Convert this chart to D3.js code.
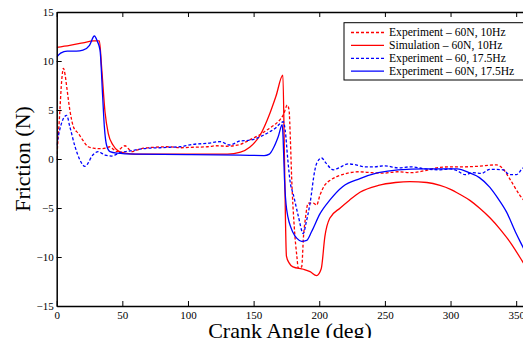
<!DOCTYPE html>
<html>
<head>
<meta charset="utf-8">
<script src="https://cdn.jsdelivr.net/npm/d3@7"></script>
<style>
  body { margin: 0; background: #fff; }
  svg { display: block; font-family: "Liberation Serif", "Times New Roman", serif; }
</style>
</head>
<body>
<div id="chart"></div>
<script>
// crank angle (deg) vs friction (N)
const expSlow = [[0,0],[2,4],[4,8.3],[5.1,9.25],[6.5,8.5],[7.6,7.4],[10,5],[12.7,3.3],[16.5,2.6],[20,1.9],[24,1.25],[28,1.1],[33,1.05],[37,1.1],[40.6,1.25],[43,1.0],[45.7,0.75],[49,1.1],[52,1.35],[55,1.0],[57,0.75],[61,0.9],[66,1.1],[75,1.2],[84,1.25],[95,1.15],[104,1.2],[115,1.25],[122,1.35],[129.5,1.3],[140,1.5],[147,1.95],[155,2.5],[160,2.95],[166,3.5],[170,4.0],[173,4.6],[175.6,5.5],[177,5],[178,2],[179,-2],[181,-7],[183,-10],[184,-11.15],[186.6,-11],[188,-7.9],[189.5,-6],[191.6,-4.5],[195.4,-4.5],[198,-4.7],[200.5,-3.7],[204.3,-2.65],[208,-2.2],[213.3,-1.8],[221,-1.46],[230,-1.3],[240,-1.4],[248,-1.45],[260,-1.3],[270,-1.4],[280,-1.2],[292,-0.85],[300,-0.8],[310,-0.8],[320,-0.75],[335,-0.6],[340,-1.0],[345,-2.0],[352.8,-3.7],[360,-4.8]];

const simSlow = [[0,11.4],[10,11.6],[20,11.85],[28,12.05],[32.5,12.05],[34.3,9.2],[36.8,4.8],[39.3,2.6],[43,1.4],[47,0.8],[52,0.6],[60,0.5],[100,0.5],[130,0.5],[140,0.7],[147,1.2],[155,2.45],[162.5,4.7],[167,6.4],[172.3,8.55],[173.5,0],[175,-9.9],[177,-10.6],[180,-11],[188,-11.25],[193,-11.5],[198,-11.9],[201.5,-11.2],[204.3,-7.9],[208,-6.05],[216,-5.0],[223,-4.2],[231,-3.4],[245,-2.7],[258,-2.4],[269,-2.3],[282,-2.4],[292,-2.7],[300,-3.1],[307,-3.6],[315,-4.25],[322,-5.0],[330,-6.0],[338,-7.2],[346,-8.6],[355,-10.5],[360,-11.6]];

const expFastDash = [[0,1.4],[2,2.8],[5,4.1],[7.6,4.45],[10,3.3],[14,1.25],[17.7,-0.1],[21.5,-0.75],[24,-0.4],[26.6,0.25],[29,0.6],[31.7,0.75],[34,0.6],[36.8,0.4],[41.9,0.3],[45,0.45],[48,0.65],[55,0.8],[63.4,1.0],[70,1.1],[78.7,1.15],[86,1.2],[94,1.25],[104,1.5],[115,1.6],[124.4,1.77],[132,1.43],[139.6,1.84],[146,1.9],[152,2.1],[157,2.4],[162.5,2.8],[167,3.2],[170,3.6],[172.6,3.8],[174,3.0],[176,0],[178,-2.5],[180,-3.5],[184,-5.8],[187.8,-7.6],[190,-6.5],[193,-4.5],[196.7,-1.1],[198,-0.45],[201.8,0.1],[205,-0.4],[210.7,-1.1],[215,-0.9],[222,-0.5],[228,-0.6],[235,-0.8],[241,-0.8],[250,-0.7],[260,-0.9],[270,-0.8],[280,-1.0],[292,-1.1],[300,-1.0],[305,-1.2],[311,-1.6],[317,-1.4],[323.7,-1.46],[330,-1.05],[340,-1.1],[345,-1.6],[350,-1.6],[355,-0.95],[360,-0.7]];

const expFast = [[0,10.4],[3,10.8],[8,11],[15,11],[20,11.1],[25,11.6],[28.7,12.55],[31,12],[33,11.1],[35,6.4],[36.3,3.3],[38,1.4],[40.6,0.75],[45.7,0.6],[60,0.5],[100,0.45],[140,0.4],[158,0.35],[162,0.5],[165,1.1],[168.8,2.3],[171.8,3.5],[172.5,2],[173.5,-2],[175.2,-5.2],[180,-7.5],[183,-8.1],[186.6,-8.4],[190.4,-8.3],[194.2,-7.4],[200.5,-5.6],[208,-4.2],[218,-2.8],[231,-2.0],[245,-1.4],[260,-1.1],[280,-1.0],[305,-1.0],[315,-1.45],[322,-1.9],[330,-2.9],[336,-4.0],[342.6,-5.4],[350,-7.6],[355,-8.95],[360,-10.3]];

const seriesNames = ['Experiment \u2013 60N, 10Hz', 'Simulation \u2013 60N, 10Hz', 'Experiment \u2013 60, 17.5Hz', 'Experiment \u2013 60N, 17.5Hz'];
const seriesData = [expSlow, simSlow, expFastDash, expFast];
const seriesColor = ['#ff0000', '#ff0000', '#0000ff', '#0000ff'];
const seriesDash = ['3,2', null, '3,2', null];

const xTicks = [0, 50, 100, 150, 200, 250, 300, 350];
const yTicks = [-15, -10, -5, 0, 5, 10, 15];

const width = 523, height = 338;
const margin = { top: 12, right: -6.3, bottom: 32, left: 56.7 };

const svg = d3.select('#chart').append('svg')
  .attr('width', width)
  .attr('height', height);

const x = d3.scaleLinear()
  .domain([0, 360])
  .range([margin.left, width - margin.right]);

const y = d3.scaleLinear()
  .domain([-15, 15])
  .range([height - margin.bottom, margin.top]);

svg.append('defs').append('clipPath').attr('id', 'plot')
  .append('rect')
  .attr('x', x(0)).attr('y', y(15))
  .attr('width', x(360) - x(0)).attr('height', y(-15) - y(15));

const line = d3.line()
  .x(d => x(d[0]))
  .y(d => y(d[1]))
  .curve(d3.curveMonotoneX);

const lines = svg.append('g').attr('clip-path', 'url(#plot)');
seriesData.forEach((s, i) => {
  lines.append('path')
    .datum(s)
    .attr('fill', 'none')
    .attr('stroke', seriesColor[i])
    .attr('stroke-width', 1.3)
    .attr('stroke-dasharray', seriesDash[i])
    .attr('d', line);
});

// axes, matlab style: ticks inward, box all round
const styleAxis = g => {
  g.selectAll('.domain').attr('stroke', '#000').attr('stroke-width', 1.5);
  g.selectAll('.tick line').attr('stroke', '#000').attr('stroke-width', 1);
  g.selectAll('.tick text').attr('font-size', 11).attr('fill', '#000')
    .attr('font-family', '"Liberation Serif", serif');
};

svg.append('g')
  .attr('transform', `translate(0,${y(-15)})`)
  .call(d3.axisBottom(x).tickValues(xTicks).tickSizeInner(-5).tickSizeOuter(0).tickPadding(5))
  .call(styleAxis);

svg.append('g')
  .attr('transform', `translate(0,${y(15)})`)
  .call(d3.axisTop(x).tickValues(xTicks).tickSizeInner(-5).tickSizeOuter(0).tickFormat(''))
  .call(styleAxis);

svg.append('g')
  .attr('transform', `translate(${x(0)},0)`)
  .call(d3.axisLeft(y).tickValues(yTicks).tickSizeInner(-5).tickSizeOuter(0).tickPadding(3))
  .call(styleAxis);

svg.append('g')
  .attr('transform', `translate(${x(360)},0)`)
  .call(d3.axisRight(y).tickValues(yTicks).tickSizeInner(-5).tickSizeOuter(0).tickFormat(''))
  .call(styleAxis);

// axis titles
svg.append('text')
  .attr('x', (x(0) + x(360)) / 2 - 3)
  .attr('y', 338)
  .attr('text-anchor', 'middle')
  .attr('font-size', 22)
  .text('Crank Angle (deg)');

svg.append('text')
  .attr('transform', `translate(30,${y(0)}) rotate(-90)`)
  .attr('text-anchor', 'middle')
  .attr('font-size', 22)
  .text('Friction (N)');

// legend
const legend = svg.append('g');
legend.append('rect')
  .attr('x', 344).attr('y', 22.7)
  .attr('width', 190).attr('height', 57.3)
  .attr('fill', '#fff').attr('stroke', '#000').attr('stroke-width', 1);

seriesNames.forEach((name, i) => {
  const ly = 32.5 + i * 12.9;
  legend.append('line')
    .attr('x1', 351).attr('x2', 384)
    .attr('y1', ly).attr('y2', ly)
    .attr('stroke', seriesColor[i])
    .attr('stroke-width', 1.3)
    .attr('stroke-dasharray', seriesDash[i]);
  legend.append('text')
    .attr('x', 389).attr('y', ly + 3.9)
    .attr('font-size', 11.6)
    .text(name);
});
</script>
</body>
</html>
